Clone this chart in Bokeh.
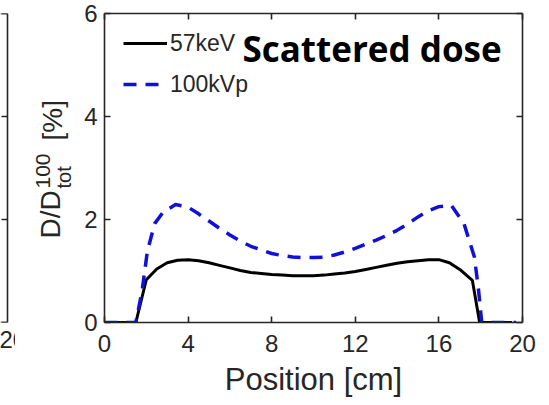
import numpy as np
from bokeh.plotting import figure
from bokeh.models import Range1d, LinearAxis, FixedTicker, Label, Legend, LegendItem, Title
from bokeh.layouts import row
from bokeh.embed import file_html
from bokeh.resources import INLINE

# Scattered dose profiles across the phantom
position_57kev = [0.0, 1.5, 2.0, 2.5, 3.0, 3.5, 4.0, 4.5, 5.0, 5.5, 6.0, 6.5, 7.0, 7.5,
                  8.0, 8.5, 9.0, 9.5, 10.0, 10.5, 11.0, 11.5, 12.0, 12.5, 13.0, 13.5,
                  14.0, 14.5, 15.0, 15.5, 16.0, 16.5, 17.0, 17.6, 17.95, 19.5]
dose_57kev = [0.0, 0.0, 0.83, 1.04, 1.16, 1.21, 1.22, 1.20, 1.16, 1.11, 1.06, 1.01, 0.97, 0.95,
              0.93, 0.92, 0.91, 0.91, 0.91, 0.92, 0.94, 0.96, 0.99, 1.03, 1.07, 1.11,
              1.15, 1.18, 1.20, 1.22, 1.22, 1.16, 1.03, 0.82, 0.0, 0.0]

position_100kvp = [0.0, 1.5, 1.8, 2.05, 2.4, 2.8, 3.4, 4.0, 4.5, 5.0, 5.5, 6.0, 6.5, 7.0, 7.5,
                   8.0, 8.5, 9.0, 9.5, 10.0, 10.5, 11.0, 11.5, 12.0, 12.5, 13.0, 13.5, 14.0,
                   14.5, 15.0, 15.5, 16.0, 16.6, 17.2, 17.7, 17.9, 18.05, 19.7]
dose_100kvp = [0.0, 0.0, 0.62, 1.38, 1.92, 2.14, 2.29, 2.24, 2.11, 1.97, 1.83, 1.70, 1.58, 1.48, 1.41,
               1.34, 1.30, 1.27, 1.26, 1.26, 1.27, 1.31, 1.37, 1.44, 1.52, 1.60, 1.69, 1.79,
               1.91, 2.05, 2.17, 2.25, 2.27, 1.92, 1.27, 0.62, 0.0, 0.0]

series_labels = ["57keV", "100kVp"]
x_ticks = [0, 4, 8, 12, 16, 20]
y_ticks = [0, 2, 4, 6]
title_text = "Scattered dose"
x_label = "Position [cm]"
neighbour_last_tick = "20"

AXIS_COLOR = "#262626"
BLUE = "#1010d8"
SANS = "Liberation Sans"
HEIGHT = 405
FRAME_TOP, FRAME_BOTTOM = 13, 322      # canvas rows of the y=6 and y=0 lines
FRAG_W, LABEL_W = 15, 61               # neighbour edge strip, y-label strip


def style_axis(ax, ticks, font_size):
    ax.ticker = FixedTicker(ticks=ticks)
    ax.axis_line_color = AXIS_COLOR
    ax.axis_line_width = 1.6
    ax.major_tick_line_color = AXIS_COLOR
    ax.major_tick_line_width = 1.6
    ax.major_tick_in = 6
    ax.major_tick_out = 0
    ax.minor_tick_line_color = None
    ax.major_label_text_font = SANS
    ax.major_label_text_font_size = font_size
    ax.major_label_text_color = AXIS_COLOR


def side_strip(width, x0):
    # x in canvas columns, y = HEIGHT - canvas row; the frame lines up with the main panel
    f = figure(width=width, height=HEIGHT, x_range=Range1d(x0, x0 + width),
               y_range=Range1d(HEIGHT - FRAME_BOTTOM, HEIGHT - FRAME_TOP),
               output_backend="svg", toolbar_location=None,
               x_axis_location=None, y_axis_location=None,
               min_border_left=0, min_border_right=0,
               min_border_top=FRAME_TOP, min_border_bottom=HEIGHT - FRAME_BOTTOM)
    f.outline_line_color = None
    f.xgrid.visible = False
    f.ygrid.visible = False
    return f


# Main panel
main_w = 549 - FRAG_W - LABEL_W
p = figure(width=main_w, height=HEIGHT, x_range=Range1d(0, 20), y_range=Range1d(0, 6),
           output_backend="svg", toolbar_location=None,
           x_axis_location=None, y_axis_location=None,
           min_border_left=104 - FRAG_W - LABEL_W, min_border_right=27,
           min_border_top=FRAME_TOP, min_border_bottom=HEIGHT - FRAME_BOTTOM)
p.outline_line_color = None
p.xgrid.visible = False
p.ygrid.visible = False

bottom = LinearAxis()
style_axis(bottom, x_ticks, "24px")
bottom.major_label_standoff = 12
bottom.axis_label = x_label
bottom.axis_label_text_font = SANS
bottom.axis_label_text_font_style = "normal"
bottom.axis_label_text_font_size = "31px"
bottom.axis_label_text_color = AXIS_COLOR
bottom.axis_label_standoff = 7
p.add_layout(bottom, "below")

left = LinearAxis()
style_axis(left, y_ticks, "24px")
left.major_label_standoff = 7
p.add_layout(left, "left")

top = LinearAxis()
style_axis(top, x_ticks, "0px")
top.major_label_standoff = 0
p.add_layout(top, "above")

right = LinearAxis()
style_axis(right, y_ticks, "0px")
right.major_label_standoff = 0
p.add_layout(right, "right")

r57 = p.line(position_57kev, dose_57kev, line_color="black", line_width=3, line_join="round")
r100 = p.line(position_100kvp, dose_100kvp, line_color=BLUE, line_width=3.5,
              line_dash="13 9", line_join="round")

legend = Legend(items=[LegendItem(label=series_labels[0], renderers=[r57]),
                       LegendItem(label=series_labels[1], renderers=[r100])],
                location=(19, 224))
legend.border_line_color = None
legend.background_fill_alpha = 0
legend.label_text_font = SANS
legend.label_text_font_size = "23px"
legend.label_text_color = AXIS_COLOR
legend.glyph_width = 44
legend.glyph_height = 28
legend.label_height = 28
legend.spacing = 13
legend.padding = 0
legend.margin = 0
legend.label_standoff = 3
p.add_layout(legend)

p.add_layout(Label(x=6.6, y=5.32, text=title_text, text_font="Open Sans",
                   text_font_style="bold", text_font_size="35px", text_color="black",
                   text_baseline="middle", text_align="left"))

# Rotated y-axis label: D/D with superscript 100 and subscript tot, then [%]
ylab = side_strip(LABEL_W, FRAG_W)
ylabel_parts = [
    ("D/D", 50, 238, "28px"),
    ("100", 42, 188, "21px"),
    ("tot", 63, 188, "20px"),
    ("[%]", 52, 140, "28px"),
]
for txt, cx, row_px, fs in ylabel_parts:
    ylab.add_layout(Label(x=cx, y=HEIGHT - row_px, text=txt, angle=np.pi / 2,
                          text_font=SANS, text_font_size=fs, text_color=AXIS_COLOR,
                          text_align="left", text_baseline="middle"))

# Right edge of the neighbouring panel, sharing the same vertical scale
frag = side_strip(FRAG_W, 0)
edge_x = 7


def frame_y(v):
    return (HEIGHT - FRAME_BOTTOM) + (FRAME_BOTTOM - FRAME_TOP) * v / 6.0


frag.line(x=[0, edge_x, edge_x, 0], y=[frame_y(6), frame_y(6), frame_y(0), frame_y(0)],
          line_color=AXIS_COLOR, line_width=1.6)
frag.segment(x0=[edge_x - 6] * len(y_ticks), x1=[edge_x] * len(y_ticks),
             y0=[frame_y(v) for v in y_ticks], y1=[frame_y(v) for v in y_ticks],
             line_color=AXIS_COLOR, line_width=1.6)
frag.add_layout(Title(text=neighbour_last_tick, align="left", offset=-1, standoff=12,
                      text_font=SANS, text_font_size="24px", text_font_style="normal",
                      text_color=AXIS_COLOR), "below")

layout = row(frag, ylab, p)
open("out.html", "w").write(file_html(layout, INLINE))
